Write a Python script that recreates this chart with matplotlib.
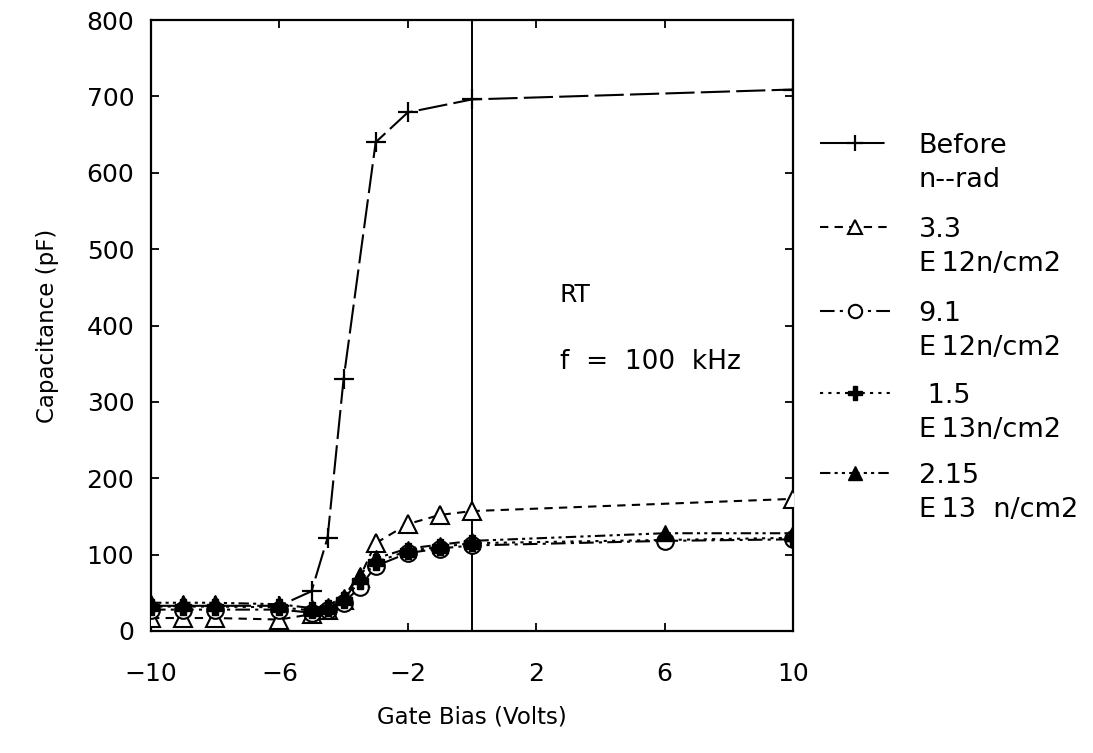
import matplotlib
matplotlib.use("Agg")
import matplotlib.pyplot as plt
from matplotlib.lines import Line2D

# ---- data ----
x_before = [-10, -9, -8, -6, -5, -4.5, -4, -3, -2, 0, 10]
c_before = [33, 33, 33, 33, 52, 122, 330, 640, 679, 696, 709]

x_33 = [-10, -9, -8, -6, -5, -4.5, -4, -3.5, -3, -2, -1, 0, 10]
c_33 = [17, 17, 17, 15, 22, 28, 40, 70, 115, 140, 152, 157, 173]

x_91 = [-10, -9, -8, -6, -5, -4.5, -4, -3.5, -3, -2, -1, 0, 6, 10]
c_91 = [28, 28, 28, 28, 24, 27, 37, 57, 85, 102, 108, 112, 118, 120]

x_15 = [-10, -9, -8, -6, -5, -4.5, -4, -3.5, -3, -2, -1, 0, 10]
c_15 = [32, 32, 32, 31, 27, 30, 40, 65, 90, 105, 110, 115, 122]

x_215 = [-10, -9, -8, -6, -5, -4.5, -4, -3.5, -3, -2, -1, 0, 6, 10]
c_215 = [37, 37, 37, 35, 30, 33, 45, 73, 95, 108, 113, 118, 128, 128]

xtick_vals = [-10, -6, -2, 2, 6, 10]
ytick_vals = [0, 100, 200, 300, 400, 500, 600, 700, 800]

legend_first = ["Before", "3.3", "9.1", " 1.5", "2.15"]
legend_second = ["n--rad", "E\u200912n/cm2", "E\u200912n/cm2", "E\u200913n/cm2", "E\u200913  n/cm2"]

plt.rcParams['font.family'] = ['DejaVu Sans']

W, H = 1093, 753
fig = plt.figure(figsize=(W / 100, H / 100), dpi=100)
ax = fig.add_axes([151 / W, 1 - 631 / H, (793 - 151) / W, (631 - 20) / H])

ax.axvline(0, color='black', lw=1.4, zorder=1)

lw = 1.5
h_before, = ax.plot(x_before, c_before, color='black', lw=lw, dashes=(14, 3),
                    marker='+', ms=15, mew=1.6, zorder=3)
h_33, = ax.plot(x_33, c_33, color='black', lw=lw, dashes=(4, 3),
                marker='^', ms=13, mfc='white', mec='black', mew=1.5, zorder=3)
h_91, = ax.plot(x_91, c_91, color='black', lw=lw, dashes=(7, 2.5, 1.5, 2.5),
                marker='o', ms=12, mfc='white', mec='black', mew=1.5, zorder=4)
h_15, = ax.plot(x_15, c_15, color='black', lw=lw, dashes=(1.5, 2.5),
                marker='P', ms=12, mfc='black', mec='black', zorder=5)
h_215, = ax.plot(x_215, c_215, color='black', lw=lw, dashes=(5, 2, 1.5, 2, 1.5, 2),
                 marker='^', ms=12, mfc='black', mec='black', zorder=6)

ax.set_xlim(-10, 10)
ax.set_ylim(0, 800)
ax.set_xticks(xtick_vals)
ax.set_xticklabels(["\u2212%d" % -v if v < 0 else "%d" % v for v in xtick_vals])
ax.set_yticks(ytick_vals)
ax.tick_params(direction='in', length=6, width=1.3, top=True, right=True,
               labelsize=18)
ax.tick_params(axis='x', pad=22)
ax.tick_params(axis='y', pad=12)
for s in ax.spines.values():
    s.set_linewidth(1.6)

ax.set_xlabel("Gate Bias (Volts)", fontsize=16.5, labelpad=14)
ax.set_ylabel("Capacitance (pF)", fontsize=16.5, labelpad=20)

ax.annotate("RT", xy=(560 / W, 1 - 295 / H), xycoords='figure fraction',
            fontsize=18, va='center', ha='left')
ax.annotate("f  =  100  kHz", xy=(560 / W, 1 - 362 / H), xycoords='figure fraction',
            fontsize=19, va='center', ha='left')

blank = Line2D([], [], linestyle='none')
group_tops = [145, 229, 313, 395, 475]
for h, l1, l2, yt in zip([h_before, h_33, h_91, h_15, h_215],
                         legend_first, legend_second, group_tops):
    leg = fig.legend([h, blank], [l1, l2], loc='center left',
                     bbox_to_anchor=(820 / W, 1 - (yt + 18) / H), frameon=False,
                     fontsize=19.5, handlelength=2.6, handletextpad=1.04,
                     labelspacing=0.3, markerscale=0.8,
                     borderpad=0, borderaxespad=0)

fig.savefig("out.png", dpi=100)
